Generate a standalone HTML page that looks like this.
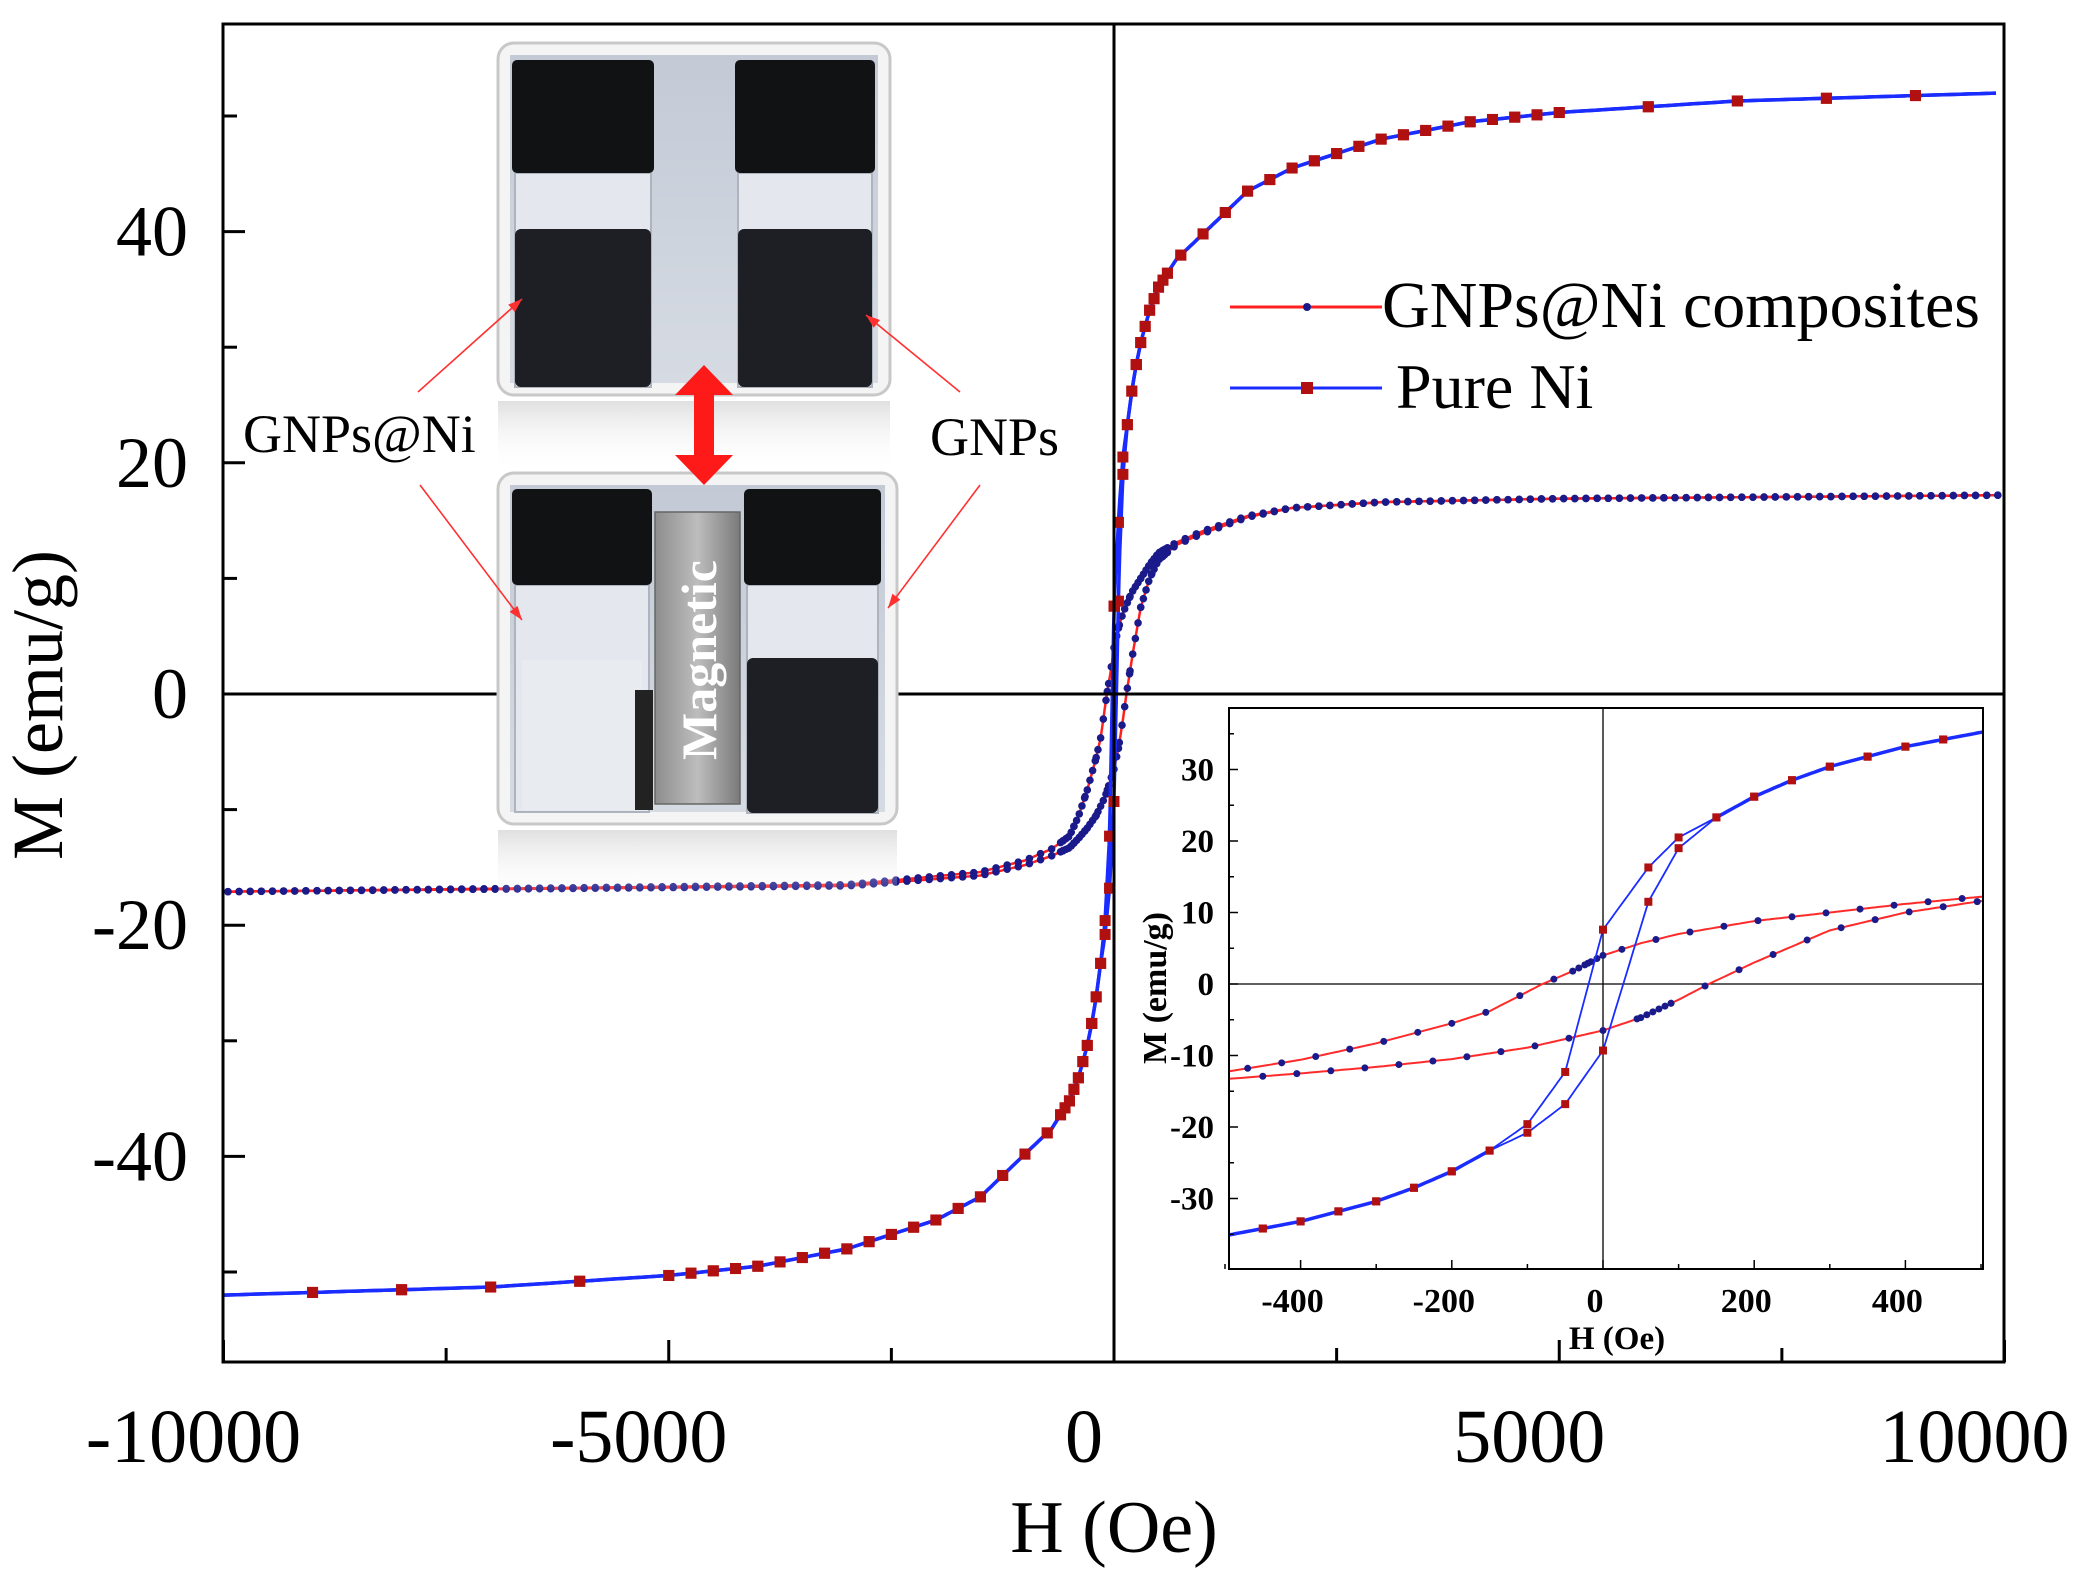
<!DOCTYPE html>
<html><head><meta charset="utf-8">
<style>
html,body{margin:0;padding:0;background:#fff;}
svg{display:block;}
text{font-family:"Liberation Serif",serif;}
</style></head>
<body>
<svg id="s" width="2079" height="1574" viewBox="0 0 2079 1574" xmlns="http://www.w3.org/2000/svg">
<defs>
<linearGradient id="bg" x1="0" y1="0" x2="0" y2="1"><stop offset="0" stop-color="#c3cad6"/><stop offset="1" stop-color="#d6dbe3"/></linearGradient>
<linearGradient id="mag" x1="0" y1="0" x2="1" y2="0"><stop offset="0" stop-color="#8d8d8d"/><stop offset="0.5" stop-color="#bdbdbd"/><stop offset="1" stop-color="#7a7a7a"/></linearGradient>
<linearGradient id="refl" x1="0" y1="0" x2="0" y2="1"><stop offset="0" stop-color="#d8d8d8" stop-opacity="0.8"/><stop offset="1" stop-color="#fff" stop-opacity="0"/></linearGradient>
<clipPath id="mainclip"><rect x="223" y="24" width="1781" height="1338"/></clipPath>
<clipPath id="inclip"><rect x="1229" y="708" width="754" height="561"/></clipPath>
</defs>
</svg>
<script>
const NS="http://www.w3.org/2000/svg";
const S=document.getElementById('s');
function el(t,a,p){const e=document.createElementNS(NS,t);for(const k in a)e.setAttribute(k,a[k]);(p||S).appendChild(e);return e;}
function txt(x,y,s,a,p){const e=el('text',Object.assign({x:x,y:y},a),p);e.textContent=s;return e;}
function interp(tab,h){if(h<=tab[0][0])return tab[0][1];for(let i=1;i<tab.length;i++){if(h<=tab[i][0]){const a=tab[i-1],b=tab[i];return a[1]+(b[1]-a[1])*(h-a[0])/(b[0]-a[0]);}}return tab[tab.length-1][1];}
const niT=[[0,0],[150,23.3],[200,26.2],[250,28.5],[300,30.4],[400,33.2],[500,35.2],[700,37.6],[1000,39.8],[1500,43.5],[2000,45.5],[3000,48],[4000,49.5],[5000,50.3],[7000,51.3],[10000,52]];
function ni(h){return h>=0?interp(niT,h):-interp(niT,-h);}
const niDT=[[-100,-19.6],[-50,-12.3],[0,7.6],[60,16.3],[100,20.5],[150,23.3]];
const niAT=[[-150,-23.3],[-100,-20.8],[-50,-16.8],[0,-9.3],[60,11.5],[100,19],[150,23.3]];
const niD=h=>(h>=-150&&h<=150)?(h<-100?interp([[-150,-23.3],[-100,-19.6]],h):interp(niDT,h)):ni(h);
const niA=h=>(h>=-150&&h<=150)?interp(niAT,h):ni(h);
const cDesc=[[-10000,-17.1],[-3000,-16.5],[-1500,-15.4],[-1000,-14.4],[-700,-13.4],[-500,-12.3],[-400,-10.6],[-300,-8.3],[-200,-5.5],[-150,-3.8],[-80,0],[-40,1.8],[0,4],[50,5.7],[100,7],[200,8.8],[300,10],[400,11.2],[500,12.2],[700,13.1],[1000,14.1],[1500,15.4],[2000,16.1],[3000,16.6],[5000,16.9],[10000,17.2]];
const cAsc=[[-10000,-17.1],[-3000,-16.6],[-1500,-15.7],[-1000,-14.8],[-700,-14],[-500,-13.3],[-400,-12.5],[-300,-11.6],[-200,-10.5],[-100,-8.9],[0,-6.5],[50,-4.7],[100,-2.2],[140,0],[200,3],[300,7.5],[400,10],[500,11.6],[700,12.9],[1000,13.9],[1500,15.3],[2000,16.1],[3000,16.6],[5000,16.9],[10000,17.2]];
const cD=h=>interp(cDesc,h), cA=h=>interp(cAsc,h);

const MX=h=>1114+h*(2004-223)/20000, MY=m=>694-m*11.56;
const IX=h=>1603+h*0.756, IY=m=>984-m*7.15;

const gm=el('g',{'clip-path':'url(#mainclip)'});
function hsteps(lo,hi){const a=[];for(let h=lo;h<=hi;){a.push(h);const ah=Math.abs(h);h+= ah<600?10:(ah<2000?25:100);}return a;}
function pth(f,X,Y,attrs,parent,lo,hi){const hs=hsteps(lo,hi);let d='';hs.forEach((h,i)=>{d+=(i?'L':'M')+X(h).toFixed(1)+','+Y(f(h)).toFixed(1);});return el('path',Object.assign({d:d,fill:'none'},attrs),parent);}
pth(cD,MX,MY,{stroke:'#ff2020','stroke-width':2.5},gm,-10000,10000);
pth(cA,MX,MY,{stroke:'#ff2020','stroke-width':2.5},gm,-10000,10000);
for(let h=-9950;h<=10000;h+=125){el('circle',{cx:MX(h),cy:MY(cD(h)),r:3.8,fill:'#1a1a8a'},gm);el('circle',{cx:MX(h),cy:MY(cA(h)),r:3.8,fill:'#1a1a8a'},gm);}
for(let h=-600;h<=600;h+=30){el('circle',{cx:MX(h),cy:MY(cD(h)),r:3.8,fill:'#1a1a8a'},gm);el('circle',{cx:MX(h),cy:MY(cA(h)),r:3.8,fill:'#1a1a8a'},gm);}
pth(niD,MX,MY,{stroke:'#1a2cff','stroke-width':3.5},gm,-10000,10000);
pth(niA,MX,MY,{stroke:'#1a2cff','stroke-width':3.5},gm,-10000,10000);
const sq=(x,y,s,p)=>el('rect',{x:x-s/2,y:y-s/2,width:s,height:s,fill:'#b01010'},p);
let niH=[-9000,-8000,-7000,-6000,6000,7000,8000,9000];
for(let h=-5000;h<=5000;h+=250)niH.push(h);
for(let h=-600;h<=600;h+=50)niH.push(h);
niH.forEach(h=>{sq(MX(h),MY(niD(h)),11,gm);sq(MX(h),MY(niA(h)),11,gm);});

el('line',{x1:223,y1:694,x2:2004,y2:694,stroke:'#000','stroke-width':3});
el('line',{x1:1114,y1:24,x2:1114,y2:1362,stroke:'#000','stroke-width':3});
el('rect',{x:223,y:24,width:1781,height:1338,fill:'none',stroke:'#000','stroke-width':3});
for(let h=-10000;h<=10000;h+=2500){const maj=h%5000===0;el('line',{x1:MX(h),y1:1362,x2:MX(h),y2:1362-(maj?22:14),stroke:'#000','stroke-width':3});}
for(let m=-50;m<=50;m+=10){const maj=m%20===0;el('line',{x1:223,y1:MY(m),x2:223+(maj?22:14),y2:MY(m),stroke:'#000','stroke-width':3});}
[-10000,-5000,0,5000,10000].forEach(h=>txt(MX(h)-30,1462,h,{'font-size':76,'text-anchor':'middle'}));
[40,20,0,-20,-40].forEach(m=>txt(188,MY(m)+24,m,{'font-size':72,'text-anchor':'end'}));
txt(1114,1552,'H (Oe)',{'font-size':74,'text-anchor':'middle'});
txt(0,0,'M (emu/g)',{'font-size':72,'text-anchor':'middle',transform:'translate(62,705) rotate(-90)'});

el('line',{x1:1230,y1:307,x2:1382,y2:307,stroke:'#ff2020','stroke-width':3});
el('circle',{cx:1307,cy:307,r:4,fill:'#1a1a8a'});
txt(1382,327,'GNPs@Ni composites',{'font-size':66});
el('line',{x1:1230,y1:388,x2:1382,y2:388,stroke:'#1a2cff','stroke-width':3});
sq(1307,388,12);
txt(1396,408,'Pure Ni',{'font-size':64});

// inset
el('rect',{x:1229,y:708,width:754,height:561,fill:'#fff',stroke:'none'});
const gi=el('g',{'clip-path':'url(#inclip)'});
el('line',{x1:1229,y1:IY(0),x2:1983,y2:IY(0),stroke:'#000','stroke-width':1.3},gi);
el('line',{x1:IX(0),y1:708,x2:IX(0),y2:1269,stroke:'#000','stroke-width':1.3},gi);
function ipath(f,attrs,step){let d='';for(let h=-520;h<=520;h+=step){d+=(d?'L':'M')+IX(h).toFixed(1)+','+IY(f(h)).toFixed(1);}el('path',Object.assign({d:d,fill:'none'},attrs),gi);}
ipath(cD,{stroke:'#ff2a2a','stroke-width':2},5);ipath(cA,{stroke:'#ff2a2a','stroke-width':2},5);
for(let h=-470;h<=500;h+=45){el('circle',{cx:IX(h),cy:IY(cD(h)),r:3.5,fill:'#1a1a8a'},gi);el('circle',{cx:IX(h+20),cy:IY(cA(h+20)),r:3.5,fill:'#1a1a8a'},gi);}
for(let h=-40;h<=0;h+=8){el('circle',{cx:IX(h),cy:IY(cD(h)),r:3.5,fill:'#1a1a8a'},gi);el('circle',{cx:IX(h+90),cy:IY(cA(h+90)),r:3.5,fill:'#1a1a8a'},gi);}
function niP(f,lo,hi,w){let d='';for(let h=lo;h<=hi;h+=5){d+=(d?'L':'M')+IX(h).toFixed(1)+','+IY(f(h)).toFixed(1);}el('path',{d:d,fill:'none',stroke:'#1a2cff','stroke-width':w},gi);}
niP(niD,-520,520,1.8);niP(niA,-520,520,1.8);
niP(niD,150,520,3.5);niP(niA,-520,-150,3.5);
[-450,-400,-350,-300,-250,-200,-150,-100,-50,0,60,100,150,200,250,300,350,400,450].forEach(h=>{sq(IX(h),IY(niD(h)),8,gi);sq(IX(h),IY(niA(h)),8,gi);});
el('rect',{x:1229,y:708,width:754,height:561,fill:'none',stroke:'#000','stroke-width':2});
for(let h=-500;h<=500;h+=100){const maj=h%200===0;el('line',{x1:IX(h),y1:1269,x2:IX(h),y2:1269-(maj?9:5),stroke:'#000','stroke-width':1.5});}
for(let m=-35;m<=35;m+=5){const maj=m%10===0;el('line',{x1:1229,y1:IY(m),x2:1229+(maj?9:5),y2:IY(m),stroke:'#000','stroke-width':1.5});}
[-400,-200,0,200,400].forEach(h=>txt(IX(h)-8,1312,h,{'font-size':34,'font-weight':'bold','text-anchor':'middle'}));
[30,20,10,0,-10,-20,-30].forEach(m=>txt(1214,IY(m)+11,m,{'font-size':33,'font-weight':'bold','text-anchor':'end'}));
txt(1617,1349,'H (Oe)',{'font-size':33,'font-weight':'bold','text-anchor':'middle'});
txt(0,0,'M (emu/g)',{'font-size':34,'font-weight':'bold','text-anchor':'middle',transform:'translate(1166,988) rotate(-90)'});

// photo
function panel(x,y,w,h){
  el('rect',{x:x,y:y+h+6,width:w,height:70,fill:'url(#refl)'});
  el('rect',{x:x,y:y,width:w,height:h,rx:16,fill:'#f4f4f4',stroke:'#c8c8c8','stroke-width':3});
  el('rect',{x:x+12,y:y+12,width:w-24,height:h-24,fill:'url(#bg)'});
}
function vial(x,w,capTop,capBot,liqTop,bot){
  el('rect',{x:x+3,y:capBot,width:w-6,height:bot-capBot,fill:'#e4e8ee',stroke:'#aeb4be','stroke-width':2});
  if(liqTop!==null)el('rect',{x:x+3,y:liqTop,width:w-6,height:bot-liqTop,rx:6,fill:'#1e1f24'});
  el('rect',{x:x,y:capTop,width:w,height:capBot-capTop,rx:5,fill:'#111214'});
}
panel(498,43,392,352);
vial(512,142,60,173,229,387);
vial(735,140,60,173,229,387);
panel(498,473,399,351);
vial(512,140,489,585,null,812);
el('rect',{x:522,y:660,width:120,height:150,fill:'#e8ebef',opacity:0.8});
el('rect',{x:635,y:690,width:18,height:120,fill:'#222'});
vial(744,137,489,585,658,813);
el('rect',{x:655,y:512,width:85,height:292,fill:'url(#mag)',stroke:'#666','stroke-width':1.5});
txt(0,0,'Magnetic',{'font-size':50,'font-weight':'bold',fill:'#fff','text-anchor':'middle',transform:'translate(716,660) rotate(-90)'});
el('polygon',{points:'704,365 733,395 714,395 714,455 733,455 704,485 675,455 694,455 694,395 675,395',fill:'#ff1a1a'});
txt(243,452,'GNPs@Ni',{'font-size':54});
txt(930,455,'GNPs',{'font-size':54});
function arrow(x1,y1,x2,y2){el('line',{x1:x1,y1:y1,x2:x2,y2:y2,stroke:'#ff3030','stroke-width':1.6});const a=Math.atan2(y2-y1,x2-x1),L=14,W=5;
 el('polygon',{points:`${x2},${y2} ${x2-L*Math.cos(a)+W*Math.sin(a)},${y2-L*Math.sin(a)-W*Math.cos(a)} ${x2-L*Math.cos(a)-W*Math.sin(a)},${y2-L*Math.sin(a)+W*Math.cos(a)}`,fill:'#ff3030'});}
arrow(418,392,522,299);arrow(420,485,522,620);
arrow(960,392,866,315);arrow(980,485,888,608);
</script>
</body></html>
